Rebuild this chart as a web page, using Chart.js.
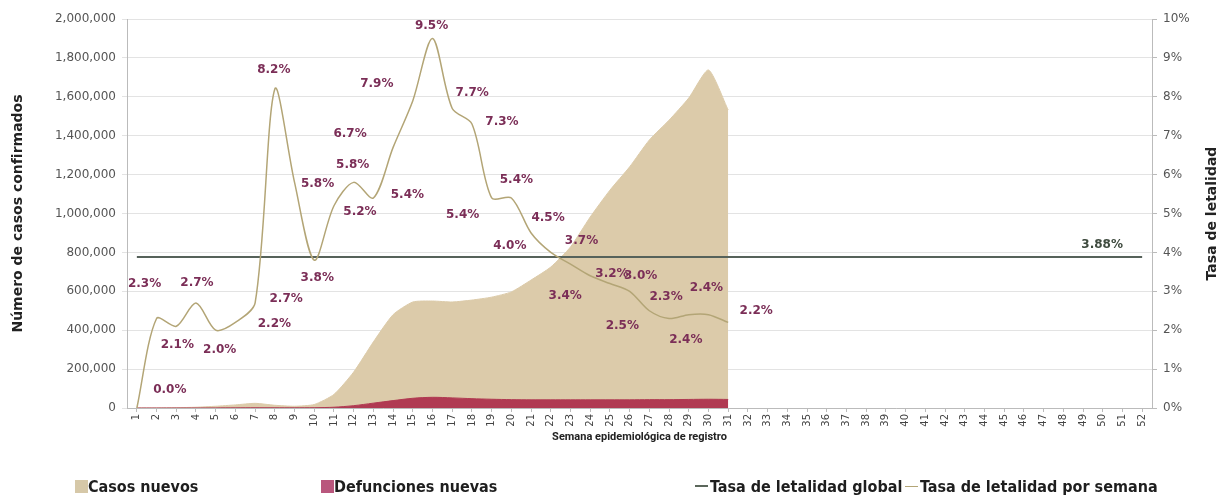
<!DOCTYPE html>
<html lang="es">
<head>
  <meta charset="UTF-8">
  <title>Casos, defunciones y tasa de letalidad por semana</title>
  <script src="https://cdn.jsdelivr.net/npm/chart.js"></script>
  <style>
    body {
      margin: 0;
      background: #fff;
    }

    #wrap {
      position: relative;
      width: 1220px;
      height: 502px;
    }

    #chart {
      position: absolute;
      left: 0;
      top: 0;
    }

    #legend span.item {
      position: absolute;
      top: 478px;
      font-family: "DejaVu Sans Condensed", "Roboto", sans-serif;
      font-weight: bold;
      font-size: 16px;
      color: #1e1e1e;
      white-space: nowrap;
      line-height: 18px;
    }

    .box {
      display: inline-block;
      width: 13px;
      height: 13px;
      vertical-align: -1px;
    }

    .dash {
      display: inline-block;
      width: 13px;
      height: 0;
      vertical-align: 5px;
      margin-right: 2px;
    }
  </style>
</head>
<body>

<div id="wrap">
  <canvas id="chart" width="1220" height="502"></canvas>
  <div id="legend">
    <span class="item" style="left:75px"><span class="box" style="background:#d6c8a8"></span>Casos nuevos</span>
    <span class="item" style="left:321px"><span class="box" style="background:#b9577d"></span>Defunciones nuevas</span>
    <span class="item" style="left:695px"><span class="dash" style="border-top:2px solid #5b675b"></span>Tasa de letalidad global</span>
    <span class="item" style="left:905px"><span class="dash" style="border-top:1px solid #b3a576"></span>Tasa de letalidad por semana</span>
  </div>
</div>

<script>
  // semanas epidemiológicas (etiquetas del eje x)
  var weeks = ['1', '2', '3', '4', '5', '6', '7', '8', '9', '10', '11', '12', '13', '14', '15', '16', '17', '18',
    '19', '20', '21', '22', '23', '24', '25', '26', '27', '28', '29', '30', '31', '32', '33', '34', '35', '36',
    '37', '38', '39', '40', '41', '42', '43', '44', '45', '46', '47', '48', '49', '50', '51', '52'];

  var casosNuevos = [0, 300, 1500, 4000, 9000, 16000, 24000, 14000, 9000, 18000, 70000, 185000, 340000, 480000,
    545000, 550000, 545000, 555000, 570000, 597000, 658000, 725000, 828000, 982000, 1120000, 1240000, 1378000,
    1480000, 1594000, 1738000, 1532000];

  var defuncionesNuevas = [0, 0, 100, 200, 400, 700, 1200, 1000, 900, 1500, 4000, 12000, 25000, 38000, 50000,
    55000, 52000, 48000, 45000, 43000, 42000, 42000, 42000, 42000, 42000, 42000, 43000, 43000, 44000, 45000, 44000];

  var tasaSemanal = [0.0, 2.3, 2.1, 2.7, 2.0, 2.2, 2.7, 8.2, 5.8, 3.8, 5.2, 5.8, 5.4, 6.7, 7.9, 9.5, 7.7, 7.3,
    5.4, 5.4, 4.5, 4.0, 3.7, 3.4, 3.2, 3.0, 2.5, 2.3, 2.4, 2.4, 2.2];

  var tasaGlobal = 3.88;

  // desplazamiento de cada etiqueta respecto a su punto
  var labelDx = [33, -12, 1, 1, 4, 39, 31, -1, 23, 3, 26, -1, 34, -43, -36, -1, 20, 30, -29, 5, 17, -41, 11, -25,
    2, 11, -27, -3, -3, -2, 28];
  var labelDy = [-18, -35, 19, -20, 20, 1, -4, -19, 1, 18, 6, -18, -3, -13, -17, -13, -16, -2, 17, -18, -15, -7,
    -23, 20, -10, -15, 15, -22, 25, -27, -12];

  var labelPlugin = {
    id: 'rateLabels',
    afterDatasetsDraw: function (chart) {
      var ctx = chart.ctx;
      var meta = chart.getDatasetMeta(0);
      ctx.save();
      ctx.font = 'bold 12px "DejaVu Sans"';
      ctx.fillStyle = '#7b2e57';
      ctx.textAlign = 'center';
      ctx.textBaseline = 'middle';
      meta.data.forEach(function (pt, i) {
        ctx.fillText(tasaSemanal[i].toFixed(1) + '%', pt.x + labelDx[i], pt.y + labelDy[i]);
      });

      var g = chart.getDatasetMeta(1).data[1];
      ctx.fillStyle = '#3e4a3e';
      ctx.fillText(tasaGlobal.toFixed(2) + '%', g.x - 40, g.y - 12);

      // titulo del eje derecho, leído de abajo hacia arriba
      var area = chart.chartArea;
      ctx.translate(1212, (area.top + area.bottom) / 2);
      ctx.rotate(-Math.PI / 2);
      ctx.font = 'bold 14px "DejaVu Sans"';
      ctx.fillStyle = '#222';
      ctx.fillText('Tasa de letalidad', 0, 0);
      ctx.restore();
    }
  };

  var ctx = document.getElementById('chart').getContext('2d');

  var chart = new Chart(ctx, {
    type: 'line',
    data: {
      labels: weeks,
      datasets: [
        {
          label: 'Tasa de letalidad por semana',
          data: tasaSemanal,
          yAxisID: 'y1',
          borderColor: '#b3a576',
          borderWidth: 1.5,
          pointRadius: 0,
          tension: 0.3,
          fill: false,
          order: 0
        },
        {
          label: 'Tasa de letalidad global',
          data: [{ x: '1', y: tasaGlobal }, { x: '52', y: tasaGlobal }],
          yAxisID: 'y1',
          borderColor: '#56625a',
          borderWidth: 2,
          pointRadius: 0,
          fill: false,
          order: 1
        },
        {
          label: 'Defunciones nuevas',
          data: defuncionesNuevas,
          yAxisID: 'y',
          borderColor: '#b03a52',
          backgroundColor: '#b03a52',
          borderWidth: 1,
          pointRadius: 0,
          tension: 0.3,
          fill: 'origin',
          order: 2
        },
        {
          label: 'Casos nuevos',
          data: casosNuevos,
          yAxisID: 'y',
          borderColor: '#dccbaa',
          backgroundColor: '#dccbaa',
          borderWidth: 1,
          pointRadius: 0,
          tension: 0.2,
          fill: 'origin',
          order: 3
        }
      ]
    },
    options: {
      responsive: false,
      animation: false,
      devicePixelRatio: 1,
      layout: {
        padding: { top: 19, bottom: 50, left: 6, right: 0 }
      },
      plugins: {
        legend: { display: false },
        tooltip: { enabled: false }
      },
      scales: {
        x: {
          offset: true,
          afterFit: function (s) { s.height = 44; },
          grid: { drawOnChartArea: false, tickLength: 4, color: '#bbb' },
          border: { color: '#bbb' },
          ticks: {
            minRotation: 90,
            maxRotation: 90,
            autoSkip: false,
            padding: 2,
            color: '#444',
            font: { family: 'DejaVu Sans', size: 10 }
          },
          title: {
            display: true,
            text: 'Semana epidemiológica de registro',
            color: '#222',
            padding: { top: 0, bottom: 8 },
            font: { family: 'Roboto', size: 11, weight: 'bold' }
          }
        },
        y: {
          position: 'left',
          min: 0,
          max: 2000000,
          afterFit: function (s) { s.width = 121; },
          ticks: {
            stepSize: 200000,
            padding: 6,
            color: '#555',
            font: { family: 'DejaVu Sans', size: 12 },
            callback: function (v) { return v.toLocaleString('en-US'); }
          },
          grid: { color: '#e3e3e3', tickLength: 5 },
          border: { color: '#bbb' },
          title: {
            display: true,
            text: 'Número de casos confirmados',
            color: '#222',
            padding: { top: 4, bottom: 0 },
            font: { family: 'DejaVu Sans', size: 14, weight: 'bold' }
          }
        },
        y1: {
          position: 'right',
          min: 0,
          max: 10,
          afterFit: function (s) { s.width = 68; },
          ticks: {
            stepSize: 1,
            padding: 6,
            color: '#555',
            font: { family: 'DejaVu Sans', size: 12 },
            callback: function (v) { return v + '%'; }
          },
          grid: { drawOnChartArea: false, tickLength: 5, color: '#bbb' },
          border: { color: '#bbb' }
        }
      }
    },
    plugins: [labelPlugin]
  });
</script>

</body>
</html>
